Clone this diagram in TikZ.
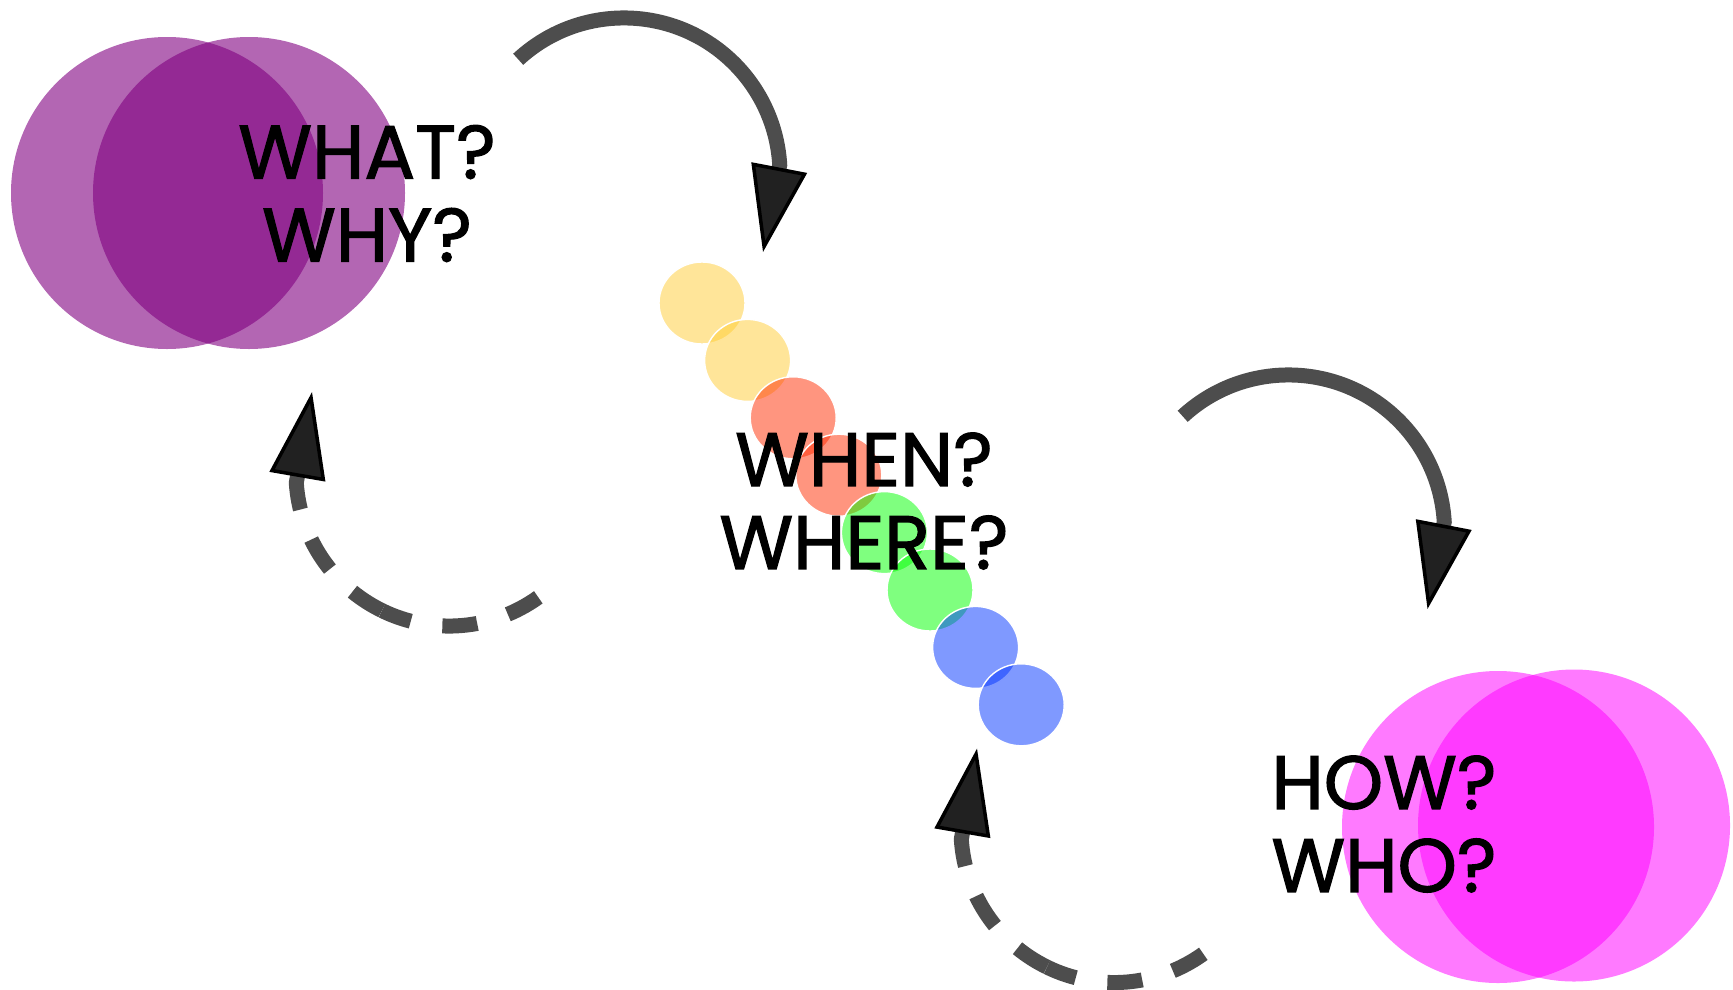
\documentclass[tikz,border=0pt]{standalone}
\usepackage{fontspec}
\newfontfamily\askfont{Poppins}[FakeBold=1.6]
\usetikzlibrary{arrows.meta}
\definecolor{turngray}{RGB}{77,77,77}
\definecolor{tipgray}{RGB}{33,33,33}
\definecolor{whatpurple}{RGB}{128,0,128}
\definecolor{howmagenta}{RGB}{255,0,255}
\definecolor{beadyellow}{RGB}{255,204,51}
\definecolor{beadred}{RGB}{255,43,0}
\definecolor{beadgreen}{RGB}{0,255,0}
\definecolor{beadblue}{RGB}{0,51,255}
\tikzset{
  blob/.style={fill opacity=#1},
  bead/.style={fill=#1, fill opacity=0.5, draw=white, line width=0.4pt},
  turn/.style={turngray, line width=1.5mm},
  question/.style={align=center, font=\askfont\fontsize{21.5}{23.6}\selectfont}
}

\begin{document}
\begin{tikzpicture}[>={Triangle[length=8.6mm, width=5.6mm, fill=tipgray, color=black, line width=1pt]}]
    \useasboundingbox (0,0) rectangle (17.33,9.89);

    % what / why
    \fill[whatpurple, blob=0.6] (1.67,7.96) circle (1.56);
    \fill[whatpurple, blob=0.6] (2.49,7.96) circle (1.56);
    \draw(3.67,7.955) node[question] (what) {WHAT?\\WHY?};

    % when / where
    \draw[bead=beadyellow] (7.02,6.86) ellipse (0.43 and 0.41);
    \draw[bead=beadyellow] (7.476,6.286) ellipse (0.43 and 0.41);
    \draw[bead=beadred] (7.932,5.712) ellipse (0.43 and 0.41);
    \draw[bead=beadred] (8.388,5.138) ellipse (0.43 and 0.41);
    \draw[bead=beadgreen] (8.844,4.564) ellipse (0.43 and 0.41);
    \draw[bead=beadgreen] (9.30,3.99) ellipse (0.43 and 0.41);
    \draw[bead=beadblue] (9.756,3.416) ellipse (0.43 and 0.41);
    \draw[bead=beadblue] (10.212,2.842) ellipse (0.43 and 0.41);
    \draw(8.64,4.88) node[question] (when) {WHEN?\\WHERE?};

    % how / who
    \fill[howmagenta, blob=0.52] (14.98,1.62) circle (1.56);
    \fill[howmagenta, blob=0.52] (15.74,1.635) circle (1.56);
    \draw(13.84,1.65) node[question] (how) {HOW?\\WHO?};

    % turns between the groups
    \coordinate (goA) at (5.182,9.297);
    \coordinate (tipA) at (7.63,7.37);
    \coordinate (goB) at (11.827,5.727);
    \coordinate (tipB) at (14.275,3.80);
    \draw[turn, ->] (goA) arc[start angle=132.7, end angle=3.3, radius=1.56] -- (tipA);
    \draw[turn, ->] (goB) arc[start angle=132.7, end angle=3.3, radius=1.56] -- (tipB);

    % dashed turns back
    \coordinate (backA) at (5.383,3.917);
    \coordinate (midA) at (3.819,3.785);
    \coordinate (endA) at (3.12,5.97);
    \coordinate (backB) at (12.033,0.352);
    \coordinate (midB) at (10.469,0.22);
    \coordinate (endB) at (9.77,2.405);
    \draw[turn, dash pattern=on 3.5mm off 3.2mm] (backA) arc[start angle=-54.3, end angle=-116, radius=1.53];
    \draw[turn, dash pattern=on 3.5mm off 3.2mm, ->] (midA) arc[start angle=-116, end angle=-176.3, radius=1.53] -- (endA);
    \draw[turn, dash pattern=on 3.5mm off 3.2mm] (backB) arc[start angle=-54.3, end angle=-116, radius=1.53];
    \draw[turn, dash pattern=on 3.5mm off 3.2mm, ->] (midB) arc[start angle=-116, end angle=-176.3, radius=1.53] -- (endB);

\end{tikzpicture}
\end{document}
